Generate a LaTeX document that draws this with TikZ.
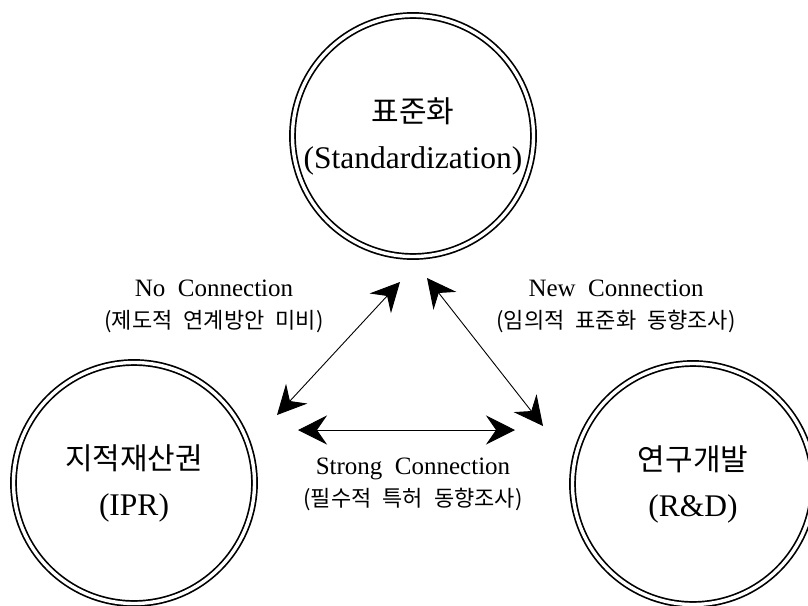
\documentclass[tikz,border=0pt]{standalone}
\usepackage{fontspec}
\setmainfont{Liberation Serif}
\newfontfamily\kofont{Noto Sans CJK KR}
\usetikzlibrary{positioning, arrows.meta}

\newcommand{\kohub}[1]{{\kofont\fontsize{30}{36}\selectfont #1}}
\newcommand{\kolink}[1]{{\kofont\fontsize{22}{31}\selectfont #1}}

\begin{document}
\begin{tikzpicture}[x=1pt, y=-1pt]

	% Styles
	\tikzset{
		hub/.style={
			circle, draw, double, line width=1.7pt, double distance=3.4pt,
			minimum size=241pt, inner sep=0pt, align=center,
			font=\fontsize{31.5}{46}\selectfont
		},
		link/.style={
			align=center, inner sep=0pt,
			font=\fontsize{25}{32}\selectfont
		},
		arrow/.style={line width=0.9pt, <->, >={Stealth[length=29pt, width=29pt, inset=10pt]}}
	}

	\useasboundingbox (0,0) rectangle (808,605);

	% Circles
	\node (std) [hub] at (413,136) {\kohub{표준화}\\(Standardization)};
	\node (ipr) [hub] at (134,483) {\kohub{지적재산권}\\(IPR)};
	\node (rnd) [hub] at (693,484) {\kohub{연구개발}\\(R\&D)};

	% Labels
	\node (nocon) [link] at (214,306) {No\hspace{0.5em}Connection\\\kolink{(제도적\hspace{0.5em}연계방안\hspace{0.5em}미비)}};
	\node (newcon) [link] at (616,306) {New\hspace{0.5em}Connection\\\kolink{(임의적\hspace{0.5em}표준화\hspace{0.5em}동향조사)}};
	\node (strongcon) [link] at (413,484) {Strong\hspace{0.5em}Connection\\\kolink{(필수적\hspace{0.5em}특허\hspace{0.5em}동향조사)}};

	% Arrow ends
	\coordinate (iprtop) at (277,415);
	\coordinate (stdleft) at (400,282);
	\coordinate (stdright) at (427,278);
	\coordinate (rndtop) at (543,426);
	\coordinate (iprright) at (298,430);
	\coordinate (rndleft) at (515,430);

	% Arrows
	\draw[arrow] (iprtop) -- (stdleft);
	\draw[arrow] (stdright) -- (rndtop);
	\draw[arrow] (iprright) -- (rndleft);

\end{tikzpicture}
\end{document}
